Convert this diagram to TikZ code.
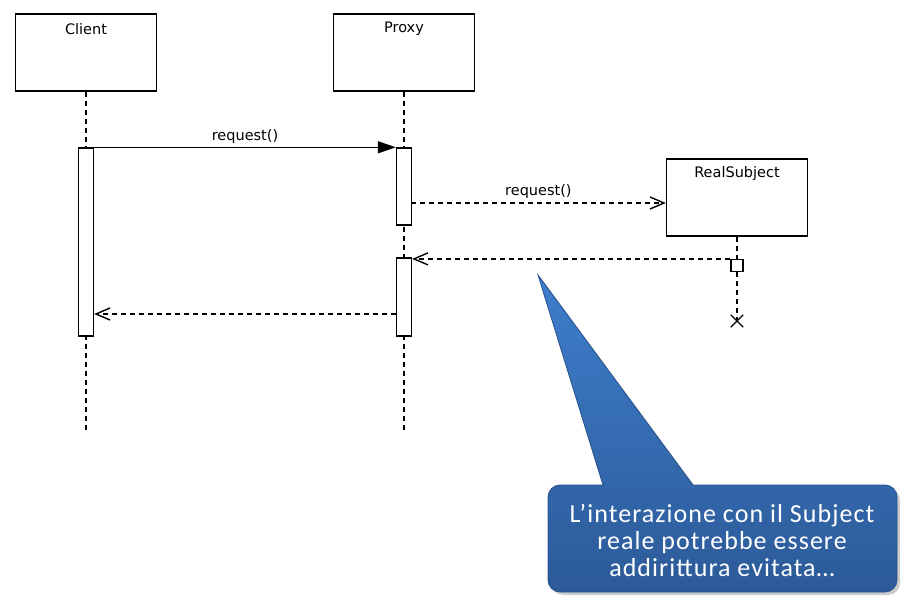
\documentclass[tikz,border=0pt]{standalone}
\usepackage{fontspec}
\setmainfont{DejaVu Sans}
\newfontfamily\notefont[LetterSpace=4]{Carlito}
\usepackage{tikz}
\usetikzlibrary{arrows.meta,shapes.misc,shadows,positioning}

\definecolor{notetop}{RGB}{62,126,204}
\definecolor{notebottom}{RGB}{44,90,152}
\definecolor{noteline}{RGB}{40,82,140}

\begin{document}
\begin{tikzpicture}[x=1pt, y=-1pt, line width=1.4pt,
        obj/.style={draw, minimum width=141pt, minimum height=77pt, inner sep=0pt},
        bar/.style={draw, fill=white, minimum width=15pt, inner sep=0pt},
        life/.style={dash pattern=on 5pt off 4pt},
        msg/.style={font=\fontsize{14.5}{16}\selectfont},
        open/.style={-{Straight Barb[length=14pt,width=12pt]}}]
        \useasboundingbox (0,0) rectangle (903,596);

        \node[obj] (client) at (86, 52.5) {};
        \node[obj] (proxy) at (404, 52.5) {};
        \node[obj] (rs) at (737, 197.5) {};
        \node[msg] (clientname) at (86, 29) {Client};
        \node[msg] (proxyname) at (404, 29) {Proxy};
        \node[msg] (rsname) at (737, 174) {RealSubject};

        \coordinate (cend) at (86, 430);
        \coordinate (pend) at (404, 430);
        \draw[life] (client.south) -- (cend);
        \draw[life] (proxy.south) -- (pend);

        \node[bar, minimum height=188pt] (cbar) at (86, 242) {};
        \node[bar, minimum height=77pt] (pbar1) at (404, 186.5) {};
        \node[bar, minimum height=78pt] (pbar2) at (404, 297) {};

        \node[draw, fill=white, minimum size=12pt, inner sep=0pt, line width=1.2pt] (ret) at (737, 265.5) {};
        \node[draw, cross out, minimum size=11pt, inner sep=0pt] (kill) at (737, 321) {};
        \draw[life] (rs.south) -- (ret.north);
        \draw[life] (ret.south) -- (kill.center);

        \draw[-{Triangle[length=18pt,width=12pt]}] (cbar.north east) -- (pbar1.north west) node[midway, above, msg] {request()};
        \coordinate (fwd) at (411, 203);
        \draw[life, open] (fwd) -- (fwd -| rs.west) node[midway, above, msg] {request()};
        \draw[life, open] (ret.north west) -- (ret.north west -| pbar2.east);
        \coordinate (back) at (396, 314);
        \draw[life, open] (back) -- (back -| cbar.east);

        % callout
        \shade[top color=notetop, bottom color=notebottom, draw=noteline, line width=0.8pt,
            drop shadow={shadow xshift=3pt, shadow yshift=-3pt, opacity=0.4}]
            (538,275) -- (693,485) [rounded corners=12pt] -- (897,485) -- (897,592) -- (548,592) -- (548,485) [sharp corners] -- (603,485) -- cycle;
        \node[text=white, align=center, font=\notefont\fontsize{26}{27}\selectfont] (note) at (722, 540)
            {L’interazione con il Subject\\reale potrebbe essere\\addirittura evitata…};
\end{tikzpicture}
\end{document}
